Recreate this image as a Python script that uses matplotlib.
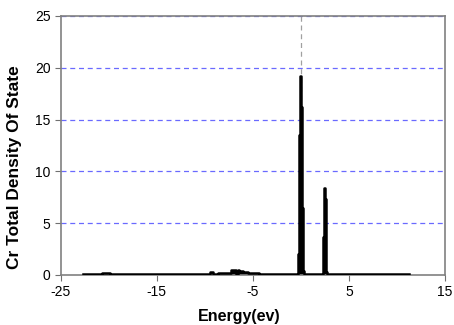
import matplotlib
matplotlib.use("Agg")
import matplotlib.pyplot as plt

plt.rcParams['font.family'] = ['Liberation Sans', 'DejaVu Sans']
plt.rcParams['axes.unicode_minus'] = False

# energy (eV) where each step starts, and total DOS on that step
energy = [-22.7, -20.7, -19.9, -9.9, -9.5, -9.2, -8.6, -7.3, -6.8, -6.6,
          -6.4, -6.0, -5.5, -4.4, -3.7, -0.40, -0.30, -0.19, -0.09, 0.01,
          0.12, 0.22, 0.32, 2.19, 2.29, 2.39, 2.49, 2.60, 2.70, 6.4,
          6.8, 7.7, 11.3]
dos = [0.05, 0.15, 0.05, 0.12, 0.3, 0.1, 0.2, 0.5, 0.1, 0.45,
       0.35, 0.3, 0.2, 0.1, 0.05, 0.1, 2.0, 13.5, 19.2, 16.2,
       6.5, 0.4, 0.05, 0.1, 3.7, 8.4, 7.3, 0.3, 0.05, 0.12,
       0.05, 0.12, 0.12]

xticks = [-25, -15, -5, 5, 15]
yticks = [0, 5, 10, 15, 20, 25]

fig = plt.figure(figsize=(4.54, 3.25), dpi=100)
ax = fig.add_axes([0.134, 0.154, 0.846, 0.797])

for y in yticks[1:]:
    ax.axhline(y, color='#6a6aff', linestyle=(0, (4, 3)), linewidth=0.9, zorder=1)
ax.axvline(0, color='#a0a0a0', linestyle=(0, (4, 3)), linewidth=0.9, zorder=1)

ax.fill_between(energy, dos, step='post', color='black', linewidth=0, zorder=2)
ax.plot(energy, dos, drawstyle='steps-post', color='black', linewidth=1.8, zorder=3)

ax.set_xlim(-25, 15)
ax.set_ylim(0, 25)
ax.set_xticks(xticks)
ax.set_yticks(yticks)
ax.tick_params(labelsize=10, length=4, color='#707070', direction='out')
for s in ax.spines.values():
    s.set_color('#808080')
    s.set_linewidth(1.2)

ax.set_xlabel('Energy(ev)', fontsize=11.5, fontweight='bold')
ax.set_ylabel('Cr Total Density Of State', fontsize=12.5, fontweight='bold')
ax.xaxis.set_label_coords(0.465, -0.13)
ax.yaxis.set_label_coords(-0.10, 0.415)

fig.savefig('out.png', dpi=100)
